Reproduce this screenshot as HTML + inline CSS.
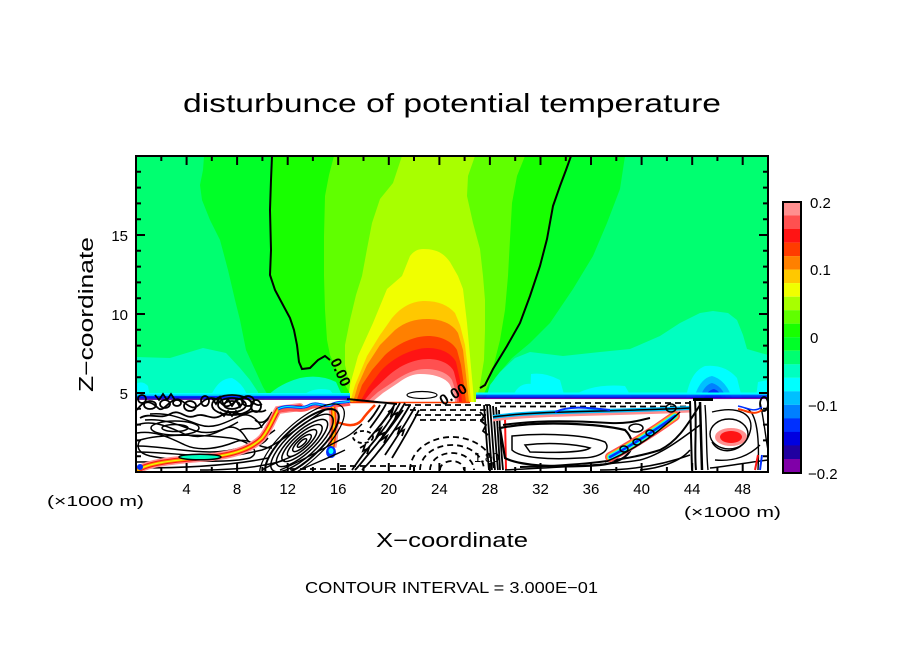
<!DOCTYPE html>
<html><head><meta charset="utf-8"><style>
html,body{margin:0;padding:0;background:#fff;}
svg{display:block;}
text{font-family:"Liberation Sans",sans-serif;fill:#000;}
</style></head><body>
<svg width="904" height="654" viewBox="0 0 904 654" xmlns="http://www.w3.org/2000/svg">
<defs><clipPath id="c"><rect x="136" y="156" width="632" height="316"/></clipPath></defs>
<rect width="904" height="654" fill="#fff"/>
<g clip-path="url(#c)">
<rect x="136" y="156" width="632" height="316" fill="#fff"/>
<rect x="136" y="156" width="632" height="246" fill="#00ff70"/>
<path fill="#00ff28" d="M204,156 L625,156 L620,189 L607,223 L593,256 L573,289 L550,323 L530,343 L512,358 L495,378 L484,402 L272,402 L263,387 L246,350 L240,320 L235,300 L228,270 L220,240 L210,220 L202,200 L200,185 L203,170 Z"/>
<path fill="#18ff00" d="M272,156 L571,156 L566,170 L560,186 L553,206 L547,239 L540,266 L530,296 L520,323 L507,346 L493,369 L485,385 L478,392 L470,402 L350,402 L343,391 L339,381 L332,366 L325,357 L318,360 L310,368 L302,369 L299,362 L297,345 L294,330 L290,318 L283,305 L275,290 L270,275 L271,250 L270,210 L271,180 Z"/>
<path fill="#60ff00" d="M334,156 L525,156 L517,176 L512,203 L510,239 L508,276 L505,310 L500,340 L495,360 L488,385 L480,402 L355,402 L345,385 L337,370 L330,355 L327,340 L325,310 L324,276 L324,236 L325,196 L329,175 Z"/>
<path fill="#a8ff00" d="M402,156 L475,156 L468,176 L467,196 L473,223 L480,249 L483,276 L485,300 L485,330 L484,360 L480,385 L476,402 L358,402 L350,385 L345,365 L345,345 L350,320 L356,295 L362,276 L367,249 L372,223 L380,199 L393,183 Z"/>
<path fill="#f0ff00" d="M423,249 C435,249 443,252 450,262 L458,276 L463,289 L467,323 L470,356 L473,389 L474,402 L348,402 L350,385 L358,356 L373,323 L387,289 L402,276 L410,256 C414,251 418,249 423,249 Z"/>
<path fill="#ffc800" d="M425,301 C438,301 448,305 455,313 L460,325 L465,345 L468,370 L471,402 L350,402 L355,385 L367,356 L380,335 L392,318 C402,306 413,301 425,301 Z"/>
<path fill="#ff8000" d="M427,319 C440,319 452,323 458,333 L463,350 L466,375 L469,402 L353,402 L358,385 L367,365 L380,345 L395,330 C405,322 415,319 427,319 Z"/>
<path fill="#ff3c00" d="M428,336 C440,336 452,341 457,350 L461,365 L464,385 L466,402 L356,402 L362,385 L372,370 L385,355 C398,343 415,336 428,336 Z"/>
<path fill="#ff1414" d="M428,348 C442,348 452,354 456,362 L460,380 L462,402 L360,402 L368,388 L380,372 C392,358 412,348 428,348 Z"/>
<path fill="#ff5050" d="M428,359 C440,359 451,364 454,372 L458,388 L459,402 L363,402 L373,390 L388,376 C400,365 415,359 428,359 Z"/>
<path fill="#ff8f8f" d="M425,369 C438,369 448,373 452,380 L456,392 L457,402 L367,402 L378,392 L393,382 C404,374 415,369 425,369 Z"/>
<path fill="#fff" d="M420,374 C435,374 446,378 450,385 L454,394 L455,402 L372,402 L383,393 L398,383 C406,377 413,374 420,374 Z"/>
<ellipse cx="422" cy="395" rx="15" ry="3.5" fill="none" stroke="#000" stroke-width="1.2"/>

<path fill="#00ffc0" d="M136,357 L170,358 L203,348 L226,353 L240,368 L250,380 L258,392 L258,402 L136,402 Z"/>
<path fill="#00ffc0" d="M262,402 Q275,385 300,378 Q320,374 336,382 L345,402 Z"/>
<path fill="#00ffc0" d="M485,402 L490,385 L500,372 L515,358 L530,352 L563,356 L600,352 L630,349 L660,336 L680,323 L700,313 L713,311 L728,313 L737,320 L743,335 L747,349 L768,355 L768,402 Z"/>
<path fill="#00ffff" d="M136,384 Q142,380 148,386 L150,398 L136,398 Z"/>
<path fill="#00ffff" d="M210,398 Q218,378 232,378 Q244,384 248,398 Z"/>
<path fill="#00ffff" d="M300,398 Q312,386 330,390 L336,398 Z"/>
<path fill="#00ffff" d="M512,398 Q518,382 532,384 L540,398 Z"/>
<path fill="#00ffff" d="M530,398 L531,374 Q545,372 560,380 L565,398 Z"/>
<path fill="#00ffff" d="M570,398 Q590,383 625,386 L632,398 Z"/>
<path fill="#00ffff" d="M686,398 Q690,372 705,366 Q725,364 737,378 L742,398 Z"/>
<path fill="#00c0ff" d="M694,398 Q700,378 712,376 Q726,380 732,398 Z"/>
<path fill="#0080ff" d="M700,398 Q704,385 712,383 Q722,386 726,398 Z"/>
<path fill="#0030ff" d="M704,398 Q708,390 714,389 Q720,391 722,398 Z"/>
<path fill="#00ffff" d="M756,398 L758,382 L768,380 L768,398 Z"/>
<g>
<rect x="136" y="393" width="214" height="1.5" fill="#00ffff"/>
<rect x="136" y="394.5" width="214" height="1.5" fill="#00c0ff"/>
<rect x="136" y="396" width="214" height="1.5" fill="#0030ff"/>
<rect x="136" y="397.5" width="214" height="1.2" fill="#0000e0"/>
<rect x="136" y="398.7" width="214" height="1.2" fill="#8000a8"/>
<rect x="476" y="392.5" width="292" height="1.5" fill="#00ffff"/>
<rect x="476" y="394" width="292" height="1.2" fill="#00c0ff"/>
<rect x="476" y="395.2" width="292" height="1.5" fill="#0030ff"/>
<rect x="476" y="396.7" width="292" height="1.2" fill="#0000e0"/>
<rect x="476" y="397.9" width="292" height="1.2" fill="#8000a8"/>
</g>
<rect x="136" y="400" width="214" height="72" fill="#fff"/>
<rect x="476" y="399.1" width="292" height="73" fill="#fff"/>
<rect x="350" y="402" width="126" height="71" fill="#fff"/>
<path d="M350,402.5 L470,402.5" stroke="#ff3c00" stroke-width="1.5"/>

<g fill="none" stroke="#000" stroke-width="2">
<path d="M272,156 L271,180 L270,210 L271,250 L270,275 L275,290 L283,305 L290,318 L294,330 L297,345 L299,362 L302,369 L310,368 L318,360 L325,356 L330,360"/>
<path d="M571,156 L566,170 L560,186 L553,206 L547,239 L540,266 L530,296 L520,323 L507,346 L493,369 L485,385 L480,388"/>
<path d="M347,399 L397,404"/>
</g>
<text x="0" y="0" font-size="15" font-weight="bold" transform="translate(330,361) rotate(66)">0.00</text>
<text x="0" y="0" font-size="15" font-weight="bold" transform="translate(443,406) rotate(-30)">0.00</text>

<!-- lower-left lumpy cluster -->
<g fill="none" stroke="#000" stroke-width="1.8">
<path d="M137,410 C145,398 152,402 158,408 C164,414 170,396 180,400 C188,404 192,412 200,404 C208,396 215,396 222,404 C230,412 236,396 245,398 C252,400 256,408 262,404"/>
<path d="M140,418 C150,412 160,420 170,414 C180,408 185,420 195,416 C205,412 212,422 222,415 C232,408 240,418 250,412 C255,409 260,414 266,410"/>
<ellipse cx="165" cy="404" rx="5" ry="4"/>
<ellipse cx="190" cy="406" rx="6" ry="5"/>
<ellipse cx="205" cy="401" rx="4" ry="5"/>
<ellipse cx="232" cy="405" rx="20" ry="10"/>
<ellipse cx="232" cy="405" rx="14" ry="7"/>
<ellipse cx="232" cy="405" rx="8" ry="4"/>
<ellipse cx="248" cy="401" rx="6" ry="5"/>
<ellipse cx="150" cy="405" rx="6" ry="4"/>
<ellipse cx="177" cy="403" rx="4" ry="3"/>
<ellipse cx="142" cy="399" rx="4" ry="4"/>
<ellipse cx="256" cy="406" rx="5" ry="6"/>
<path d="M212,398 l4,6 l4,-7 l4,8 l4,-6 l4,7 l4,-6 l4,7 l4,-6"/>
<path d="M220,412 l4,4 l4,-5 l4,5 l4,-5 l4,5"/>
<path d="M155,395 l4,5 l4,-6 l4,6 l4,-6 l4,6"/>
</g>
<g fill="none" stroke="#000" stroke-width="1.5">
<path d="M137,425 C150,420 165,425 180,432 C195,440 210,436 222,430 C232,424 240,428 246,438 C252,448 262,446 268,438"/>
<path d="M137,433 C155,430 170,438 185,445 C200,452 220,448 235,442 C248,436 256,448 272,448"/>
<path d="M150,414 C170,412 185,420 200,425 C215,430 230,420 240,416 C250,412 258,420 262,428"/>
<path d="M145,420 C165,418 180,426 196,431 C212,436 228,428 238,422"/>
<ellipse cx="175" cy="428" rx="24" ry="7"/>
<ellipse cx="175" cy="428" rx="13" ry="3.5"/>
<path d="M140,440 C160,434 200,434 230,438 C250,441 262,452 250,458 C230,463 180,462 150,456 C138,453 136,447 140,440 Z"/>
<path d="M137,446 C160,446 185,452 210,452 C235,452 255,445 275,430"/>
<path d="M137,462 C170,462 220,460 262,450 C280,444 300,425 325,410"/>
<path d="M137,468 C180,468 230,466 268,458"/>
<path d="M137,452 C160,452 190,456 215,456"/>
<path d="M255,420 C262,426 268,420 272,412"/>
<path d="M240,430 C248,426 256,432 262,426 C266,420 270,418 276,414"/>
<path d="M200,470 C230,470 260,468 285,460"/>
</g>
<g fill="none" stroke-linecap="round">
<path d="M138,470 C150,462 180,460 200,458 C230,456 250,450 262,438 C270,428 273,418 278,410 L300,407" stroke="#ff8f8f" stroke-width="8"/>
<path d="M138,470 C150,462 180,460 200,458 C230,456 250,450 262,438 C270,428 273,418 278,410 L300,407" stroke="#ff1414" stroke-width="5"/>
<path d="M138,470 C150,462 180,460 200,458 C230,456 250,450 262,438 C270,428 273,418 278,410 L300,407" stroke="#ff8000" stroke-width="3"/>
<path d="M138,470 C150,462 180,460 200,458 C230,456 250,450 262,438 C270,428 273,418 278,410 L300,407" stroke="#f0ff00" stroke-width="1.2"/>
</g>
<ellipse cx="200" cy="457" rx="21" ry="2.8" fill="#00ffc0" stroke="#000" stroke-width="1.5"/>
<ellipse cx="140" cy="467" rx="3" ry="3" fill="#0030ff"/>
<path d="M278,412 C290,406 300,414 310,408 C318,404 325,412 333,407 C340,404 345,406 350,404" fill="none" stroke="#ff5050" stroke-width="3"/>
<path d="M278,409 C290,403 300,411 310,405 C318,401 325,409 333,404 C340,401 345,403 350,401" fill="none" stroke="#0030ff" stroke-width="3"/>
<path d="M278,409 C290,403 300,411 310,405 C318,401 325,409 333,404 C340,401 345,403 350,401" fill="none" stroke="#00ffff" stroke-width="1"/>
<path d="M333,407 C334,420 335,432 332,447" fill="none" stroke="#ff8f8f" stroke-width="9"/>
<path d="M333,407 C334,420 335,432 332,447" fill="none" stroke="#ff3c00" stroke-width="5"/>
<path d="M333,407 C334,420 335,432 332,447" fill="none" stroke="#ffc800" stroke-width="2"/>
<ellipse cx="331" cy="452" rx="5" ry="6" fill="#0030ff"/>
<ellipse cx="331" cy="451" rx="2.5" ry="3" fill="#00ffff"/>
<path d="M337,422 C345,425 355,428 362,420 C366,414 370,410 375,405" fill="none" stroke="#ff3c00" stroke-width="2.5"/>
<!-- eye contours -->
<g transform="translate(302,443) rotate(-42)" fill="none" stroke="#000" stroke-width="1.5">
<ellipse rx="40" ry="14"/>
<ellipse rx="33" ry="11"/>
<ellipse rx="26" ry="8.5"/>
<ellipse rx="19" ry="6"/>
<ellipse rx="12" ry="4"/>
<ellipse rx="6" ry="2"/>
<ellipse rx="47" ry="17" stroke-width="2"/>
<ellipse rx="54" ry="20" stroke-width="1.2"/>
</g>
<g fill="none" stroke="#000" stroke-width="1.4">
<path d="M280,470 C300,462 320,450 340,440 C350,436 356,430 362,424"/>
<path d="M300,470 C318,462 335,455 345,450"/>
<path d="M262,470 C275,462 285,460 295,455"/>
</g>
<!-- dense diagonal cluster -->
<g fill="none" stroke="#000" stroke-width="1.8">
<path d="M405,403 C395,420 385,435 372,450 C365,458 360,465 355,470"/>
<path d="M400,403 C392,418 382,432 370,446 C362,455 357,463 352,470"/>
<path d="M410,405 C400,422 390,438 378,452 C372,460 366,466 362,470"/>
<path d="M395,404 C388,416 378,428 368,440"/>
<path d="M415,407 C405,425 395,440 385,455"/>
<path d="M419,410 C410,428 400,445 392,458"/>
<path d="M403,410 C396,420 390,428 383,437"/>
<path d="M392,410 L380,426"/>
<path d="M380,405 C376,412 372,418 368,422"/>
<path d="M386,404 C382,412 376,420 370,428"/>
<path d="M375,432 l6,-4 l-4,8 l7,-3 l-3,7 l6,-4 l-3,7"/>
<path d="M388,412 l5,-3 l-2,7 l6,-3 l-2,6"/>
<path d="M360,448 l5,-3 l-2,6 l6,-3 l-2,6"/>
<path d="M395,430 l5,-3 l-2,6 l6,-3 l-2,6"/>
<ellipse cx="363" cy="437" rx="10" ry="6" stroke-dasharray="4 3"/>
</g>
<g fill="none" stroke="#000" stroke-width="1.8" stroke-dasharray="6 4">
<path d="M440,470 A12,9 0 0 1 464,470"/>
<path d="M430,470 A22,17 0 0 1 474,470"/>
<path d="M420,470 A32,25 0 0 1 484,470"/>
<path d="M410,470 A42,33 0 0 1 494,470"/>
<path d="M405,405 L490,405"/>
<path d="M410,410 L488,410"/>
<path d="M415,415 L486,415"/>
<path d="M420,420 L484,420"/>
<path d="M340,466 L420,466"/>
<path d="M290,469 L350,469"/>
<path d="M495,403 L690,403"/>
<path d="M500,406.5 L690,406.5"/>
</g>
<text x="474" y="462" font-size="13">1.80</text>
<g fill="none" stroke="#000" stroke-width="1.8">
<path d="M484,405 C486,430 487,450 489,470"/>
<path d="M487,405 C489,430 490,450 492,470"/>
<path d="M490,405 C492,430 493,450 495,470"/>
<path d="M493,406 C495,430 496,450 498,470"/>
<path d="M496,407 C498,430 499,450 500,470"/>
<path d="M499,410 C500,430 501,450 503,470"/>
<path d="M480,412 l4,4 l-3,5 l5,4 l-3,6 l5,4"/>
</g>
<path d="M505,417 L506,470" stroke="#ff1414" stroke-width="2"/>
<path d="M493,420 C520,416 560,415 600,414 C640,413 670,412 690,411" fill="none" stroke="#ff8f8f" stroke-width="3"/>
<path d="M493,417 C520,413 560,412 600,411 C640,410 670,409 690,408" fill="none" stroke="#00c0ff" stroke-width="4"/>
<path d="M493,417 C520,413 560,412 600,411 C640,410 670,409 690,408" fill="none" stroke="#000" stroke-width="1.5"/>
<path d="M555,412 C570,405 590,408 610,410" fill="none" stroke="#0030ff" stroke-width="2"/>
<g fill="none" stroke="#000" stroke-width="1.5">
<path d="M500,428 C540,420 600,424 625,430 C640,445 630,462 600,465 C560,468 520,466 505,458 Z" stroke-width="2.2"/>
<path d="M512,436 C550,432 590,436 605,442 C612,450 600,458 580,458 C550,460 520,458 512,450 Z"/>
<path d="M525,445 C550,442 575,444 590,448 C585,452 560,453 530,452 Z"/>
<path d="M503,425 C530,421 560,420 610,423 C630,424 640,420 650,418" stroke-width="2"/>
<ellipse cx="636" cy="428" rx="7" ry="4"/>
<path d="M505,470 C540,468 600,466 640,460 C660,455 680,440 700,425"/>
<path d="M520,467 C560,466 620,463 660,450 C680,440 690,420 700,405" stroke-width="2"/>
<path d="M600,470 C630,470 660,466 690,455"/>
<path d="M640,470 C660,468 680,462 690,450"/>
</g>
<g fill="none" stroke-linecap="round">
<path d="M610,457 C630,446 650,434 675,416" stroke="#ff5050" stroke-width="10"/>
<path d="M610,457 C630,446 650,434 675,416" stroke="#ffc800" stroke-width="7"/>
<path d="M610,457 C630,446 650,434 675,416" stroke="#00ffff" stroke-width="5"/>
<path d="M610,457 C630,446 650,434 675,416" stroke="#0030ff" stroke-width="2.5"/>
</g>
<g fill="none" stroke="#000" stroke-width="1.5">
<ellipse cx="624" cy="449" rx="4" ry="3"/>
<ellipse cx="637" cy="442" rx="4" ry="3"/>
<ellipse cx="650" cy="433" rx="4" ry="3"/>
<path d="M605,462 C630,452 655,436 680,412"/>
<ellipse cx="671" cy="408" rx="5" ry="4"/>
</g>
<g fill="none" stroke="#000" stroke-width="2">
<path d="M690,401 L692,470"/>
<path d="M695,401 C697,430 694,450 696,470"/>
<path d="M700,402 L702,470" stroke-width="2.5"/>
<path d="M693,399.5 L713,399.5" stroke-width="3"/>
<path d="M705,405 C707,430 706,450 708,470" stroke-width="1.4"/>
</g>
<ellipse cx="731" cy="437" rx="16" ry="9" fill="#ff8f8f"/>
<ellipse cx="731" cy="437" rx="11" ry="6" fill="#ff1414"/>
<g fill="none" stroke="#000" stroke-width="1.4">
<ellipse cx="729" cy="434" rx="19" ry="15"/>
<path d="M712,412 C740,405 755,415 750,432 C745,452 720,457 712,442"/>
<path d="M745,408 C755,410 760,430 758,470"/>
<path d="M760,402 C764,420 766,440 768,450"/>
<ellipse cx="764" cy="404" rx="4" ry="7" stroke-width="1.8"/>
<path d="M710,468 C730,466 750,462 768,460"/>
<path d="M715,460 C735,462 750,455 760,445"/>
</g>
<path d="M738,409 C748,411 754,416 762,410" fill="none" stroke="#ff3c00" stroke-width="2"/>
<path d="M738,406 C748,408 754,413 762,407" fill="none" stroke="#0030ff" stroke-width="1.5"/>
<path d="M755,470 L758,455" stroke="#ff1414" stroke-width="2"/>
<path d="M760,470 L762,455" stroke="#0030ff" stroke-width="2"/>
</g>

<rect x="136" y="156" width="632" height="316" fill="none" stroke="#000" stroke-width="2"/>
<g stroke="#000" stroke-width="2">
<path d="M136,456.2h5 M136,440.4h5 M136,424.6h5 M136,408.8h5 M136,393h9 M136,377.2h5 M136,361.4h5 M136,345.6h5 M136,329.8h5 M136,314h9 M136,298.2h5 M136,282.4h5 M136,266.6h5 M136,250.8h5 M136,235h9 M136,219.2h5 M136,203.4h5 M136,187.6h5 M136,171.8h5"/>
<path d="M768,456.2h-5 M768,440.4h-5 M768,424.6h-5 M768,408.8h-5 M768,393h-9 M768,377.2h-5 M768,361.4h-5 M768,345.6h-5 M768,329.8h-5 M768,314h-9 M768,298.2h-5 M768,282.4h-5 M768,266.6h-5 M768,250.8h-5 M768,235h-9 M768,219.2h-5 M768,203.4h-5 M768,187.6h-5 M768,171.8h-5"/>
<path d="M161.3,156v5 M186.6,156v9 M211.8,156v5 M237.1,156v9 M262.4,156v5 M287.7,156v9 M312.9,156v5 M338.2,156v9 M363.5,156v5 M388.8,156v9 M414,156v5 M439.4,156v9 M464.6,156v5 M489.9,156v9 M515.2,156v5 M540.5,156v9 M565.8,156v5 M591,156v9 M616.3,156v5 M641.6,156v9 M666.9,156v5 M692.2,156v9 M717.4,156v5 M742.7,156v9"/>
<path d="M161.3,472v-5 M186.6,472v-9 M211.8,472v-5 M237.1,472v-9 M262.4,472v-5 M287.7,472v-9 M312.9,472v-5 M338.2,472v-9 M363.5,472v-5 M388.8,472v-9 M414,472v-5 M439.4,472v-9 M464.6,472v-5 M489.9,472v-9 M515.2,472v-5 M540.5,472v-9 M565.8,472v-5 M591,472v-9 M616.3,472v-5 M641.6,472v-9 M666.9,472v-5 M692.2,472v-9 M717.4,472v-5 M742.7,472v-9"/>
</g>

<g font-size="15" text-anchor="middle">
<text x="186.6" y="494">4</text>
<text x="237.1" y="494">8</text>
<text x="287.7" y="494">12</text>
<text x="338.2" y="494">16</text>
<text x="388.8" y="494">20</text>
<text x="439.4" y="494">24</text>
<text x="489.9" y="494">28</text>
<text x="540.5" y="494">32</text>
<text x="591" y="494">36</text>
<text x="641.6" y="494">40</text>
<text x="692.2" y="494">44</text>
<text x="742.7" y="494">48</text>
</g>
<g font-size="15" text-anchor="end">
<text x="128" y="399">5</text>
<text x="128" y="320">10</text>
<text x="128" y="241">15</text>
</g>
<text x="47" y="506" font-size="15" textLength="97" lengthAdjust="spacingAndGlyphs">(×1000 m)</text>
<text x="684" y="517" font-size="15" textLength="97" lengthAdjust="spacingAndGlyphs">(×1000 m)</text>

<text x="376" y="547" font-size="20" textLength="152" lengthAdjust="spacingAndGlyphs">X−coordinate</text>
<text x="0" y="0" font-size="20" textLength="155" lengthAdjust="spacingAndGlyphs" transform="translate(93,392) rotate(-90)">Z−coordinate</text>
<text x="183" y="112" font-size="26" textLength="538" lengthAdjust="spacingAndGlyphs">disturbunce of potential temperature</text>
<text x="305" y="593" font-size="16" textLength="293" lengthAdjust="spacingAndGlyphs">CONTOUR INTERVAL = 3.000E−01</text>

<g>
<rect x="783" y="202" width="18" height="13.6" fill="#ff8f8f"/>
<rect x="783" y="215.5" width="18" height="13.6" fill="#ff5050"/>
<rect x="783" y="229" width="18" height="13.6" fill="#ff1414"/>
<rect x="783" y="242.6" width="18" height="13.6" fill="#ff3c00"/>
<rect x="783" y="256.1" width="18" height="13.6" fill="#ff8000"/>
<rect x="783" y="269.6" width="18" height="13.6" fill="#ffc800"/>
<rect x="783" y="283.1" width="18" height="13.6" fill="#f0ff00"/>
<rect x="783" y="296.7" width="18" height="13.6" fill="#a8ff00"/>
<rect x="783" y="310.2" width="18" height="13.6" fill="#60ff00"/>
<rect x="783" y="323.7" width="18" height="13.6" fill="#18ff00"/>
<rect x="783" y="337.2" width="18" height="13.6" fill="#00ff28"/>
<rect x="783" y="350.8" width="18" height="13.6" fill="#00ff70"/>
<rect x="783" y="364.3" width="18" height="13.6" fill="#00ffc0"/>
<rect x="783" y="377.8" width="18" height="13.6" fill="#00ffff"/>
<rect x="783" y="391.3" width="18" height="13.6" fill="#00c0ff"/>
<rect x="783" y="404.9" width="18" height="13.6" fill="#0080ff"/>
<rect x="783" y="418.4" width="18" height="13.6" fill="#0030ff"/>
<rect x="783" y="431.9" width="18" height="13.6" fill="#0000e0"/>
<rect x="783" y="445.4" width="18" height="13.6" fill="#2000a0"/>
<rect x="783" y="459" width="18" height="14" fill="#8000a8"/>
<rect x="783" y="202" width="18" height="271" fill="none" stroke="#000" stroke-width="2"/>
</g>
<g font-size="15">
<text x="810" y="208">0.2</text>
<text x="810" y="275">0.1</text>
<text x="810" y="343">0</text>
<text x="808" y="411">−0.1</text>
<text x="808" y="479">−0.2</text>
</g>
</svg>
</body></html>
